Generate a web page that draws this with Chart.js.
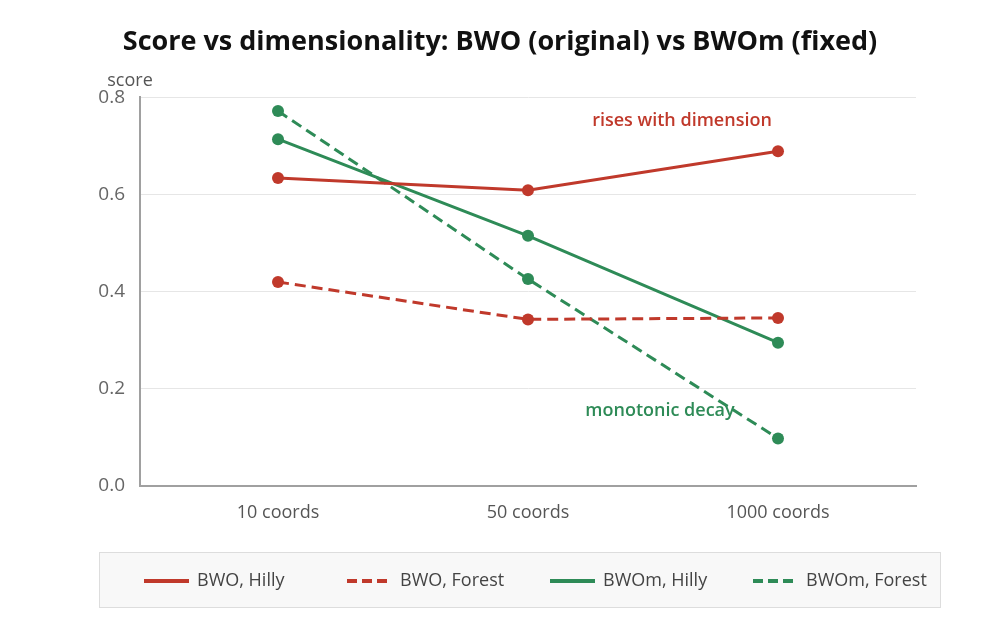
<!DOCTYPE html>
<html>
<head>
<meta charset="utf-8">
<script src="https://cdn.jsdelivr.net/npm/chart.js@4.4.1/dist/chart.umd.min.js"></script>
<style>
  html, body { margin: 0; padding: 0; background: #fff; }
  #wrap { width: 1000px; height: 639px; }
</style>
</head>
<body>
<div id="wrap"><canvas id="c" width="1000" height="639"></canvas></div>
<script>
// ---- data ----
const categories = ["10 coords", "50 coords", "1000 coords"];
const bwoHilly   = [0.634, 0.609, 0.689];
const bwoForest  = [0.420, 0.343, 0.346];
const bwomHilly  = [0.714, 0.515, 0.295];
const bwomForest = [0.772, 0.426, 0.098];
const seriesNames = ["BWO, Hilly", "BWO, Forest", "BWOm, Hilly", "BWOm, Forest"];
const yTicks = [0.0, 0.2, 0.4, 0.6, 0.8];
const notes = [
  { text: "rises with dimension", x: 1.616, y: 0.751, color: "#c0392b" },
  { text: "monotonic decay",      x: 1.528, y: 0.154, color: "#2e8b57" }
];

const RED = "#c0392b", GREEN = "#2e8b57";
const FONT = "'Open Sans', 'Noto Sans', sans-serif";

function pts(arr) { return arr.map((v, i) => ({ x: i, y: v })); }
function ds(label, arr, color, dashed) {
  return {
    label, data: pts(arr),
    borderColor: color, backgroundColor: color,
    pointBackgroundColor: color, pointBorderWidth: 0,
    pointRadius: 6, pointHoverRadius: 6,
    borderWidth: 3, borderDash: dashed ? [11, 6] : [],
    tension: 0, fill: false
  };
}

const extras = {
  id: "extras",
  afterDraw(chart) {
    const ctx = chart.ctx, ca = chart.chartArea;
    const xs = chart.scales.x, ys = chart.scales.y;
    ctx.save();
    // y axis title
    ctx.font = "18px " + FONT;
    ctx.fillStyle = "#555";
    ctx.textAlign = "center";
    ctx.textBaseline = "middle";
    ctx.fillText("score", ca.left - 10, ca.top - 17);
    // annotations
    ctx.font = "600 18px " + FONT;
    notes.forEach(n => {
      ctx.fillStyle = n.color;
      ctx.fillText(n.text, xs.getPixelForValue(n.x), ys.getPixelForValue(n.y));
    });
    // legend box
    const bx = 99, by = 552, bw = 842, bh = 56;
    ctx.fillStyle = "#f8f8f8";
    ctx.fillRect(bx, by, bw, bh);
    ctx.strokeStyle = "#dddddd";
    ctx.lineWidth = 1;
    ctx.strokeRect(bx + 0.5, by + 0.5, bw - 1, bh - 1);
    ctx.font = "18px " + FONT;
    ctx.textAlign = "left";
    const cy = by + bh / 2 + 1;
    chart.data.datasets.forEach((d, i) => {
      const x = 144 + i * 203;
      ctx.strokeStyle = d.borderColor;
      ctx.lineWidth = 4;
      ctx.setLineDash(d.borderDash.length ? [10, 5] : []);
      ctx.beginPath();
      ctx.moveTo(x, cy);
      ctx.lineTo(x + 45, cy);
      ctx.stroke();
      ctx.setLineDash([]);
      ctx.fillStyle = "#444";
      ctx.fillText(d.label, x + 53, cy);
    });
    ctx.restore();
  }
};

new Chart(document.getElementById("c"), {
  type: "line",
  data: {
    datasets: [
      ds(seriesNames[0], bwoHilly, RED, false),
      ds(seriesNames[1], bwoForest, RED, true),
      ds(seriesNames[2], bwomHilly, GREEN, false),
      ds(seriesNames[3], bwomForest, GREEN, true)
    ]
  },
  options: {
    responsive: false,
    animation: false,
    layout: { padding: { left: 0, right: 0, top: 0, bottom: 115 } },
    plugins: {
      legend: { display: false },
      tooltip: { enabled: false },
      title: {
        display: true,
        text: "Score vs dimensionality: BWO (original) vs BWOm (fixed)",
        color: "#111",
        font: { family: FONT, size: 27, weight: "bold" },
        padding: { top: 26, bottom: 39 }
      }
    },
    scales: {
      x: {
        type: "linear",
        min: -0.552, max: 2.552,
        afterBuildTicks: s => { s.ticks = categories.map((c, i) => ({ value: i })); },
        afterFit: s => { s.height = 38; },
        grid: { display: true, color: "rgba(0,0,0,0)", drawTicks: false },
        border: { display: true, color: "#a0a0a0", width: 2 },
        ticks: {
          padding: 16,
          color: "#555",
          font: { family: FONT, size: 18 },
          callback: v => categories[v] ?? ""
        }
      },
      y: {
        min: 0, max: 0.8,
        afterBuildTicks: s => { s.ticks = yTicks.map(v => ({ value: v })); },
        afterFit: s => { s.width = 140; },
        grid: { color: "#e6e6e6", lineWidth: 1, drawTicks: false },
        border: { display: true, color: "#a0a0a0", width: 2 },
        ticks: {
          padding: 15,
          color: "#666",
          font: { family: FONT, size: 19 },
          callback: v => Number(v).toFixed(1)
        }
      },
      spacer: {
        type: "linear",
        position: "right",
        afterFit: s => { s.width = 84; },
        grid: { display: false, drawTicks: false },
        border: { display: false },
        ticks: { display: false }
      }
    }
  },
  plugins: [extras]
});
</script>
</body>
</html>
